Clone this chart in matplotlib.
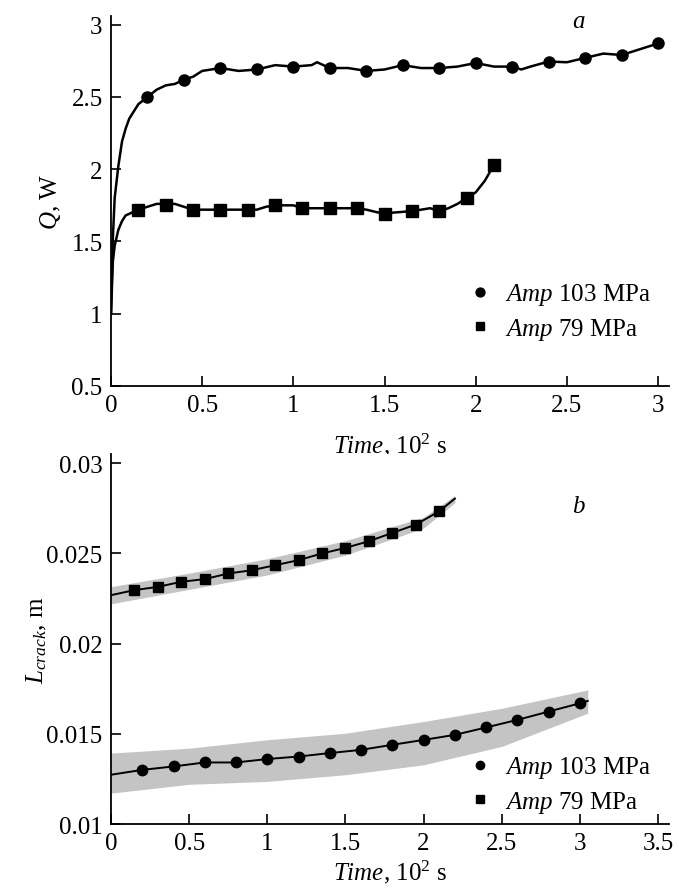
import matplotlib
matplotlib.use("Agg")
import matplotlib.pyplot as plt

plt.rcParams["font.family"] = ["Liberation Serif", "DejaVu Serif"]
plt.rcParams["mathtext.fontset"] = "custom"
plt.rcParams["mathtext.rm"] = "Liberation Serif"
plt.rcParams["mathtext.it"] = "Liberation Serif:italic"
plt.rcParams["font.size"] = 18

# --- panel a: dissipated heat Q, W ------------------------------------
q103_t = [0, 0.01, 0.02, 0.04, 0.06, 0.08, 0.1, 0.15, 0.2, 0.25, 0.3, 0.35,
          0.4, 0.45, 0.5, 0.55, 0.6, 0.7, 0.8, 0.9, 1.0, 1.1, 1.13, 1.2,
          1.3, 1.4, 1.5, 1.6, 1.7, 1.8, 1.9, 2.0, 2.1, 2.2, 2.25, 2.3, 2.4,
          2.5, 2.6, 2.7, 2.8, 2.9, 3.0]
q103 = [1.0, 1.52, 1.80, 2.02, 2.19, 2.28, 2.35, 2.45, 2.50, 2.55, 2.58, 2.59,
        2.62, 2.64, 2.68, 2.69, 2.70, 2.68, 2.69, 2.72, 2.71, 2.72, 2.74, 2.70,
        2.70, 2.68, 2.69, 2.72, 2.70, 2.70, 2.71, 2.735, 2.71, 2.71, 2.69, 2.71, 2.745,
        2.74, 2.77, 2.80, 2.79, 2.83, 2.87]
q103_mark_t = [0.2, 0.4, 0.6, 0.8, 1.0, 1.2, 1.4, 1.6, 1.8, 2.0, 2.2, 2.4,
               2.6, 2.8, 3.0]
q103_mark = [2.50, 2.62, 2.70, 2.69, 2.71, 2.70, 2.68, 2.72, 2.70, 2.735,
             2.71, 2.745, 2.77, 2.79, 2.87]

q79_t = [0, 0.01, 0.02, 0.04, 0.06, 0.08, 0.15, 0.2, 0.25, 0.3, 0.35, 0.4,
         0.45, 0.5, 0.6, 0.7, 0.75, 0.8, 0.85, 0.9, 1.0, 1.05, 1.1, 1.2, 1.3,
         1.35, 1.4, 1.5, 1.55, 1.65, 1.7, 1.75, 1.8, 1.85, 1.9, 1.95, 2.0,
         2.05, 2.1]
q79 = [1.0, 1.36, 1.47, 1.58, 1.64, 1.68, 1.72, 1.74, 1.76, 1.76, 1.76, 1.74,
       1.72, 1.72, 1.72, 1.72, 1.72, 1.72, 1.74, 1.75, 1.75, 1.73, 1.73, 1.73,
       1.73, 1.73, 1.72, 1.69, 1.70, 1.71, 1.72, 1.73, 1.71, 1.73, 1.76, 1.80,
       1.84, 1.92, 2.03]
q79_mark_t = [0.15, 0.3, 0.45, 0.6, 0.75, 0.9, 1.05, 1.2, 1.35, 1.5, 1.65,
              1.8, 1.95, 2.1]
q79_mark = [1.72, 1.75, 1.72, 1.72, 1.72, 1.75, 1.73, 1.73, 1.73, 1.69, 1.71,
            1.71, 1.80, 2.03]

# --- panel b: crack length, m -----------------------------------------
l103_mark_t = [0.2, 0.4, 0.6, 0.8, 1.0, 1.2, 1.4, 1.6, 1.8, 2.0, 2.2, 2.4,
               2.6, 2.8, 3.0]
l103_mark = [0.01300, 0.01319, 0.01341, 0.01341, 0.01360, 0.01374, 0.01393,
             0.01411, 0.01439, 0.01466, 0.01494, 0.01535, 0.01577, 0.01623,
             0.01669]
l103_t = [0] + l103_mark_t + [3.05]
l103 = [0.01273] + l103_mark + [0.01682]
l103_band_t = [0, 0.5, 1.0, 1.5, 2.0, 2.5, 3.05]
l103_hi = [0.01393, 0.01420, 0.01467, 0.01503, 0.01568, 0.01641, 0.01743]
l103_lo = [0.01171, 0.01220, 0.01236, 0.01273, 0.01328, 0.01430, 0.01614]

l79_mark_t = [0.15, 0.3, 0.45, 0.6, 0.75, 0.9, 1.05, 1.2, 1.35, 1.5, 1.65,
              1.8, 1.95, 2.1]
l79_mark = [0.02296, 0.02314, 0.02342, 0.02357, 0.02388, 0.02406, 0.02434,
            0.02462, 0.02499, 0.02530, 0.02567, 0.02613, 0.02659, 0.02733]
l79_t = [0] + l79_mark_t + [2.2]
l79 = [0.02268] + l79_mark + [0.02803]
l79_band_t = [0, 0.5, 1.0, 1.5, 2.0, 2.2]
l79_hi = [0.02315, 0.02390, 0.02470, 0.02570, 0.02700, 0.02820]
l79_lo = [0.02220, 0.02300, 0.02380, 0.02490, 0.02640, 0.02780]

LAB103 = r"$Amp$ 103 MPa"
LAB79 = r"$Amp$ 79 MPa"
XLAB = r"$Time$, 10$^2$ s"

fig = plt.figure(figsize=(6.79, 8.95), dpi=100)
ax_a = fig.add_axes([0.1635, 0.5676, 0.8218, 0.4134])
ax_b = fig.add_axes([0.1635, 0.0782, 0.8218, 0.4134])


def style(ax):
    for s in ("top", "right"):
        ax.spines[s].set_visible(False)
    for s in ("left", "bottom"):
        ax.spines[s].set_linewidth(1.3)
    ax.tick_params(direction="in", length=7, width=1.2, pad=6)


def fmt(v):
    return f"{v:g}"


# panel a
ax_a.plot(q103_t, q103, color="black", lw=1.8)
ax_a.plot(q103_mark_t, q103_mark, ls="none", marker="o", ms=8,
          color="black", label=LAB103)
ax_a.plot(q79_t, q79, color="black", lw=1.8)
ax_a.plot(q79_mark_t, q79_mark, ls="none", marker="s", ms=8,
          color="black", label=LAB79)
ax_a.set_xlim(0, 3.06)
ax_a.set_ylim(0.5, 3.06)
ax_a.set_xticks([0, 0.5, 1, 1.5, 2, 2.5, 3])
ax_a.set_xticklabels([fmt(v) for v in [0, 0.5, 1, 1.5, 2, 2.5, 3]])
ax_a.set_yticks([0.5, 1, 1.5, 2, 2.5, 3])
ax_a.set_yticklabels([fmt(v) for v in [0.5, 1, 1.5, 2, 2.5, 3]])
ax_a.set_xlabel(XLAB, labelpad=10)
ax_a.set_ylabel(r"$Q$, W", labelpad=6)
ax_a.text(0.837, 0.986, "a", transform=ax_a.transAxes, style="italic",
          ha="center", va="center")
style(ax_a)
ax_a.legend(loc="upper left", bbox_to_anchor=(0.63, 0.31), frameon=False,
            handlelength=0.6, handletextpad=0.7, labelspacing=0.35,
            markerscale=0.8, borderaxespad=0)

# panel b
ax_b.fill_between(l103_band_t, l103_lo, l103_hi, color="#c4c4c4", lw=0)
ax_b.fill_between(l79_band_t, l79_lo, l79_hi, color="#c4c4c4", lw=0)
ax_b.plot(l103_t, l103, color="black", lw=1.4)
ax_b.plot(l103_mark_t, l103_mark, ls="none", marker="o", ms=7.5,
          color="black", label=LAB103)
ax_b.plot(l79_t, l79, color="black", lw=1.4)
ax_b.plot(l79_mark_t, l79_mark, ls="none", marker="s", ms=7.5,
          color="black", label=LAB79)
ax_b.set_xlim(0, 3.57)
ax_b.set_ylim(0.01, 0.0305)
xt = [0, 0.5, 1, 1.5, 2, 2.5, 3, 3.5]
ax_b.set_xticks(xt)
ax_b.set_xticklabels([fmt(v) for v in xt])
yt = [0.01, 0.015, 0.02, 0.025, 0.03]
ax_b.set_yticks(yt)
ax_b.set_yticklabels([fmt(v) for v in yt])
ax_b.set_xlabel(XLAB, labelpad=2)
ax_b.set_ylabel(r"$L_{crack}$, m", labelpad=-2)
ax_b.text(0.837, 0.859, "b", transform=ax_b.transAxes, style="italic",
          ha="center", va="center")
style(ax_b)
ax_b.legend(loc="upper left", bbox_to_anchor=(0.63, 0.215), frameon=False,
            handlelength=0.6, handletextpad=0.7, labelspacing=0.35,
            markerscale=0.8, borderaxespad=0)

fig.savefig("out.png", dpi=100)
plt.close(fig)
